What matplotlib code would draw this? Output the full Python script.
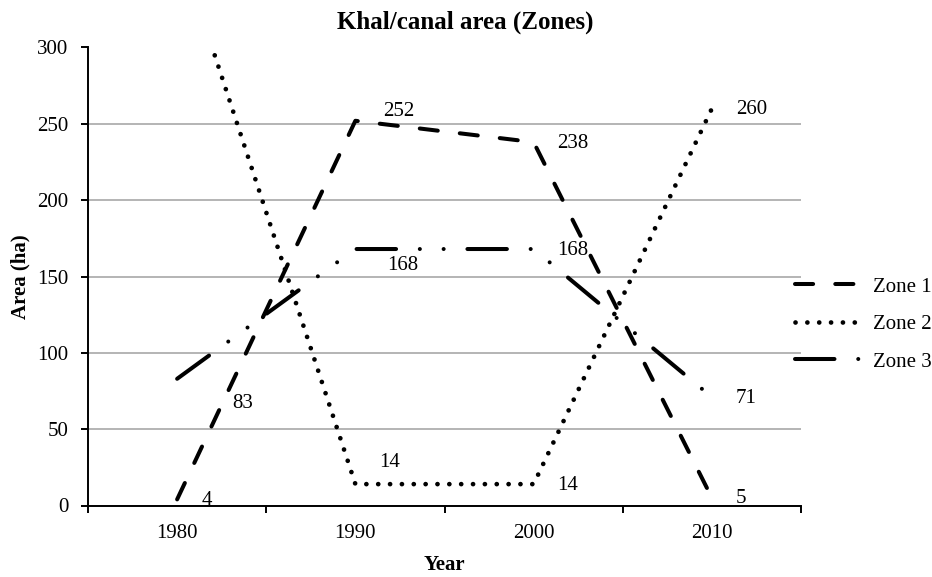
import matplotlib
matplotlib.use("Agg")
import matplotlib.pyplot as plt
from matplotlib.ticker import FixedLocator

plt.rcParams['font.family'] = ['Liberation Serif', 'DejaVu Serif']

# data
years = [1980, 1990, 2000, 2010]
zone1 = [4, 252, 238, 5]
zone2 = [370, 14, 14, 260]   # 1980 value is above the axis, line gets clipped
zone3 = [83, 168, 168, 71]
series_names = ['Zone 1', 'Zone 2', 'Zone 3']

# line styles (dash units are multiples of the line width)
widths = {'Zone 1': 2.9, 'Zone 2': 3.4, 'Zone 3': 2.9}
styles = {
    'Zone 1': (0, (4.5, 5.5)),
    'Zone 2': (0, (0.01, 2.5)),
    'Zone 3': (0, (9.8, 5.9, 0.01, 5.9, 0.01, 5.9)),
}

# data label offsets in pixels (dx, dy), a few were moved by hand in the original
label_off = (24, -1)
label_fix = {
    ('Zone 1', 1990): (28, 9),
    ('Zone 2', 1990): (24, 22),
    ('Zone 3', 1980): (55, -25),
    ('Zone 3', 1990): (32, -16),
}

fig = plt.figure(figsize=(9.32, 5.77), dpi=100)
ax = fig.add_axes([88/932, 1-505.5/577, (801-88)/932, (505.5-47.5)/577])

handles = []
for name, vals in zip(series_names, [zone1, zone2, zone3]):
    ln, = ax.plot(years, vals, color='black', lw=widths[name], linestyle=styles[name],
                  dash_capstyle='round', solid_capstyle='round', zorder=3)
    handles.append(ln)
    for x, v in zip(years, vals):
        dx, dy = label_fix.get((name, x), label_off)
        ax.annotate(str(v), (x, v), xytext=(dx, dy), textcoords='offset pixels',
                    ha='left', va='center', fontsize=15, annotation_clip=True)

ax.set_xlim(1975, 2015)
ax.set_ylim(0, 300)
ax.set_yticks(range(0, 301, 50))
ax.set_xticks(years)
ax.xaxis.set_minor_locator(FixedLocator([1975, 1985, 1995, 2005, 2015]))

ax.grid(axis='y', color='#a0a0a0', lw=1.1)
ax.set_axisbelow(True)
for s in ['top', 'right']:
    ax.spines[s].set_visible(False)
for s in ['left', 'bottom']:
    ax.spines[s].set_linewidth(1.4)

ax.tick_params(axis='x', which='major', length=0, pad=13, labelsize=15)
ax.tick_params(axis='x', which='minor', length=5, width=1.4, direction='out')
ax.tick_params(axis='y', length=5, width=1.4, pad=9, labelsize=15)

fig.text(0.499, 1-22/577, 'Khal/canal area (Zones)', ha='center', va='center',
         fontsize=18, fontweight='bold')
fig.text(444/932, 1-565/577, 'Year', ha='center', va='center',
         fontsize=15, fontweight='bold')
fig.text(20/932, 1-277/577, 'Area (ha)', ha='center', va='center',
         rotation=90, fontsize=15, fontweight='bold')

fig.legend(handles, series_names, loc='upper left', bbox_to_anchor=(795/932, 1-277/577),
           frameon=False, borderpad=0, borderaxespad=0, handlelength=3.1,
           handletextpad=0.65, labelspacing=0.86, fontsize=15)

fig.savefig('out.png', dpi=100)
